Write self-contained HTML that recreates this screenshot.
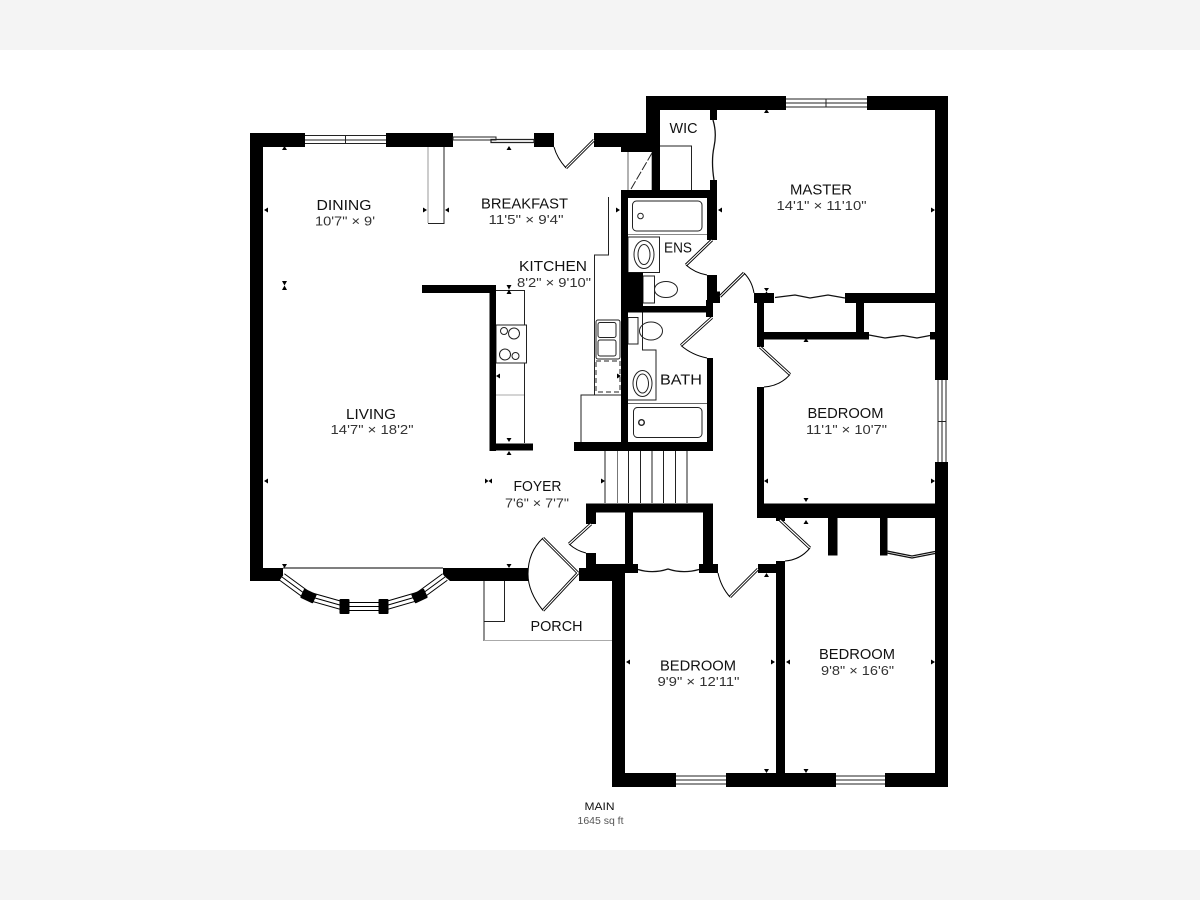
<!DOCTYPE html>
<html><head><meta charset="utf-8"><style>
html,body{margin:0;padding:0;background:#fff}
svg{display:block}
text{font-family:"Liberation Sans",sans-serif;fill:#111;text-anchor:middle}
.n{font-size:15px}
.d{font-size:13px;fill:#333}
</style></head><body>
<svg width="1200" height="900" viewBox="0 0 1200 900" xmlns="http://www.w3.org/2000/svg">
<rect width="1200" height="900" fill="#fff"/>
<rect width="1200" height="50" fill="#f4f4f4"/>
<rect y="850" width="1200" height="50" fill="#f4f4f4"/>

<!-- thin fixtures -->
<g fill="none" stroke="#222" stroke-width="1">
<path d="M444 147V223.5H428"/><path d="M428 147V223" stroke="#999"/>
<path d="M608.5 197V255H594.5V395H581V442M581 395H621"/>
<path d="M495 290.5H524.5V325M524.5 363V443"/><path d="M496 325H526.5V363H496z"/>
<circle cx="504" cy="331" r="3.5"/><circle cx="514" cy="333.5" r="5.5"/><circle cx="505" cy="354.5" r="5.5"/><circle cx="515.5" cy="356" r="3.5"/>
<path d="M496 395H524" stroke="#aaa"/>
<rect x="596" y="320" width="24" height="39" rx="2"/><rect x="598" y="322.5" width="18" height="15" rx="2"/><rect x="598" y="340" width="18" height="16" rx="2"/>
<rect x="596" y="361" width="24" height="31" stroke-dasharray="5 3"/>
<path d="M628 152V190M652 152V190" stroke="#666"/><path d="M631 189L652 153" stroke-dasharray="9 2"/>
<path d="M660 146H691.5V190"/>
<rect x="632.5" y="201" width="69.5" height="30" rx="4"/><circle cx="640.5" cy="216" r="2.8"/>
<path d="M628 234.5H707" stroke="#888"/>
<rect x="628" y="237" width="31.5" height="35.5"/><ellipse cx="644" cy="254.5" rx="10" ry="14"/><ellipse cx="644" cy="254.5" rx="6" ry="10"/>
<rect x="643" y="276" width="11.5" height="27"/><ellipse cx="666" cy="289.5" rx="11.5" ry="8"/>
<rect x="628" y="317.5" width="10" height="26.5"/><ellipse cx="651" cy="331" rx="11.5" ry="9"/>
<path d="M642.5 312V350H656V400H628"/>
<ellipse cx="642.5" cy="383.5" rx="9.5" ry="13"/><ellipse cx="642.5" cy="383.5" rx="6" ry="9.5"/>
<path d="M628 403.5H707" stroke="#666"/>
<rect x="633.5" y="407.5" width="68.5" height="30" rx="4"/><circle cx="641.5" cy="422.5" r="2.8" stroke-width="1.4"/>
<path d="M605 451V503M628.5 451V503M640.5 451V503M652 451V503M663.5 451V503M675.5 451V503M687 451V503"/>
<path d="M617.5 451V503" stroke="#777"/>
<path d="M484 581V641"/><path d="M484 640.5H612" stroke="#aaa"/>
<path d="M484 621.5H504.5V581"/>
<path d="M283 568H443" stroke="#555" stroke-width="1.5"/>
</g>

<!-- walls -->
<g fill="#000">
<rect x="250" y="133" width="13" height="448"/><rect x="250" y="133" width="55" height="14"/>
<rect x="386" y="133" width="67" height="14"/><rect x="534" y="133" width="20" height="14"/>
<rect x="594" y="133" width="27" height="14"/><rect x="621" y="133" width="39" height="19"/>
<rect x="646" y="96" width="14" height="56"/><rect x="652" y="150" width="8" height="40"/>
<rect x="646" y="96" width="140" height="14"/><rect x="867" y="96" width="81" height="14"/>
<rect x="935" y="96" width="13" height="284"/><rect x="935" y="462" width="13" height="325"/>
<rect x="710" y="110" width="7" height="10"/><rect x="710" y="180" width="7" height="10"/>
<rect x="621" y="190" width="96" height="8"/><rect x="707" y="190" width="10" height="50"/>
<rect x="621" y="190" width="7" height="261"/><rect x="621" y="272.5" width="22" height="39"/>
<rect x="707" y="275" width="10" height="28"/><rect x="707" y="291.5" width="13" height="11.5"/>
<rect x="621" y="306" width="92" height="6.5"/><rect x="706" y="300" width="7" height="17"/>
<rect x="707" y="358" width="6" height="90"/><rect x="574" y="442" width="139" height="9"/>
<rect x="422" y="285" width="74" height="8"/><rect x="489.5" y="285" width="6.5" height="166"/><rect x="489.5" y="443.5" width="43.5" height="7"/>
<rect x="754" y="293" width="20" height="10"/><rect x="845" y="293" width="90" height="10"/>
<rect x="757" y="303" width="7" height="44"/><rect x="757" y="332" width="112" height="7.5"/><rect x="856" y="303" width="8" height="30"/><rect x="930" y="332" width="5" height="7.5"/>
<rect x="757" y="387" width="7" height="131"/><rect x="757" y="503.5" width="178" height="14.5"/>
<rect x="776" y="518" width="9" height="3"/><rect x="828" y="518" width="9.5" height="37.5"/><rect x="880" y="518" width="7.5" height="37.5"/>
<rect x="586" y="503.5" width="127" height="9"/><rect x="586" y="503.5" width="10" height="20.5"/><rect x="586" y="553" width="10" height="20"/>
<rect x="625" y="512" width="8" height="61"/><rect x="703" y="512" width="10" height="52"/><rect x="699" y="564" width="19" height="9"/>
<rect x="579" y="568" width="46" height="13"/><rect x="586" y="564" width="52" height="9"/>
<rect x="612" y="568" width="13" height="219"/><rect x="612" y="773" width="64" height="14"/><rect x="726" y="773" width="110" height="14"/><rect x="885" y="773" width="63" height="14"/>
<rect x="758" y="564" width="27" height="9"/><rect x="776" y="561" width="9" height="215"/>
<rect x="250" y="568" width="33" height="13"/><path d="M443 568H528V581H450L443 575z"/><path d="M263 568H283L280 581H263z"/>
</g>

<!-- bay window -->
<g fill="none">
<path d="M282 577L308 596L345 606.5H383L419 596L445 577" stroke="#000" stroke-width="9"/>
<path d="M282 577L308 596L345 606.5H383L419 596L445 577" stroke="#fff" stroke-width="7"/>
<path d="M282 577L308 596L345 606.5H383L419 596L445 577" stroke="#000" stroke-width="1"/>
</g>
<g fill="#000">
<rect x="-5" y="-7" width="10" height="14" rx="1" transform="translate(308.500 596) rotate(-65)"/>
<rect x="-5" y="-7.500" width="10" height="15" rx="1" transform="translate(344.500 606.500)"/>
<rect x="-5" y="-7.500" width="10" height="15" rx="1" transform="translate(383.500 606.500)"/>
<rect x="-5" y="-7" width="10" height="14" rx="1" transform="translate(419.500 596) rotate(65)"/>
</g>

<!-- windows -->
<g fill="none" stroke="#222" stroke-width="1">
<path d="M305 135.500H386M305 140H386M305 143.500H386M345.500 135.500V143.500"/>
<path d="M786 99H867M786 103H867M786 107H867M826 99V107"/>
<path d="M938 380V462M942 380V462M946 380V462M938 421.500H946"/>
<path d="M676 776H726M676 780H726M676 784H726"/>
<path d="M836 776H885M836 780H885M836 784H885"/>
<path d="M453 137H496V140H453z"/><path d="M491 139.500H534V142.500H491z" stroke-width="1.200"/>
</g>

<!-- door leaves -->
<g fill="none" stroke="#000" stroke-width="3">
<path d="M594 140L566 168"/><path d="M712 240L686 265"/><path d="M720 296.500L744 273"/><path d="M712 317.500L681 345.500"/>
<path d="M760 347L790 374.500"/><path d="M591 524L569 544"/><path d="M578 573L543 538"/><path d="M578 573L543 610.500"/>
<path d="M758 569L730 597"/><path d="M780 520L810 548"/>
</g>
<g fill="none" stroke="#fff" stroke-width="1.200">
<path d="M594 140L566 168"/><path d="M712 240L686 265"/><path d="M720 296.500L744 273"/><path d="M712 317.500L681 345.500"/>
<path d="M760 347L790 374.500"/><path d="M591 524L569 544"/><path d="M578 573L543 538"/><path d="M578 573L543 610.500"/>
<path d="M758 569L730 597"/><path d="M780 520L810 548"/>
</g>
<!-- door arcs and curtains -->
<g fill="none" stroke="#000" stroke-width="1">
<path d="M554 147Q557 158 566 168"/><path d="M686 265Q695 273 707 275"/><path d="M744 273Q752 281 754 293"/>
<path d="M681 345.500Q692 355 707 358"/><path d="M790 374.500Q780 386 764 387"/><path d="M569 544Q577 551 586 553"/>
<path d="M543 538Q528 552 528 574Q528 592 543 610.500"/>
<path d="M718 573Q721 587 730 597"/><path d="M810 548Q800 560 785 561"/>
</g>
<g fill="none" stroke="#111" stroke-width="1.300">
<path d="M713 120Q717 133 714 147T714 180"/>
<path d="M775 297.500L795 295L810 298L828 295L845 298"/>
<path d="M869 335L885 338L903 335.500L917 338L930 335.500"/>
<path d="M638 569.500Q653 574 668 569Q683 574 699 569.500"/>
<path d="M887 551L912 556L935 551.500M887 553L912 558L935 553.500"/>
</g>

<!-- dimension ticks -->
<path fill="#000" d="
M282 150h5l-2.500-4zM506.500 150h5l-2.500-4zM764 113h5l-2.500-4zM803.500 342h5l-2.500-4zM506.500 455h5l-2.500-4zM803.500 524h5l-2.500-4zM764 577h5l-2.500-4z
M282 564h5l-2.500 4zM506.500 564h5l-2.500 4zM803.500 498h5l-2.500 4zM506.500 438h5l-2.500 4zM764 769h5l-2.500 4zM803.500 769h5l-2.500 4z
M268 207.500v5l-4-2.500zM449 207.500v5l-4-2.500zM722 207.500v5l-4-2.500zM500 373.500v5l-4-2.500zM268 478.500v5l-4-2.500zM768 478.500v5l-4-2.500zM630 659.500v5l-4-2.500zM790 659.500v5l-4-2.500z
M423 207.500v5l4-2.500zM616 207.500v5l4-2.500zM931 207.500v5l4-2.500zM617 373.500v5l4-2.500zM601 478.500v5l4-2.500zM931 478.500v5l4-2.500zM771 659.500v5l4-2.500zM931 659.500v5l4-2.500z
M282 281h5l-2.500 4.500l2.500 4.500h-5l2.500-4.500zM506.500 285h5l-2.500 4.500l2.500 4.500h-5l2.500-4.500zM764 288h5l-2.500 3.500l2.500 3.500h-5l2.500-3.500z
M485 478.500l3.500 2.500l3.500-2.500v5l-3.500-2.500l-3.500 2.500z"/>

<!-- labels -->
<text class="n" x="344" y="210" textLength="55" lengthAdjust="spacingAndGlyphs">DINING</text>
<text class="d" x="345" y="225.500" textLength="60" lengthAdjust="spacingAndGlyphs">10'7" × 9'</text>
<text class="n" x="524.500" y="208.500" textLength="87" lengthAdjust="spacingAndGlyphs">BREAKFAST</text>
<text class="d" x="526" y="224" textLength="75" lengthAdjust="spacingAndGlyphs">11'5" × 9'4"</text>
<text class="n" x="553" y="271" textLength="68" lengthAdjust="spacingAndGlyphs">KITCHEN</text>
<text class="d" x="554" y="287" textLength="74" lengthAdjust="spacingAndGlyphs">8'2" × 9'10"</text>
<text class="n" x="683.500" y="133" textLength="28" lengthAdjust="spacingAndGlyphs">WIC</text>
<text class="n" x="821" y="194.500" textLength="62" lengthAdjust="spacingAndGlyphs">MASTER</text>
<text class="d" x="821.500" y="210" textLength="90" lengthAdjust="spacingAndGlyphs">14'1" × 11'10"</text>
<text class="n" x="678" y="252.500" textLength="28" lengthAdjust="spacingAndGlyphs">ENS</text>
<text class="n" x="681" y="384.500" textLength="42" lengthAdjust="spacingAndGlyphs">BATH</text>
<text class="n" x="845.500" y="418" textLength="76" lengthAdjust="spacingAndGlyphs">BEDROOM</text>
<text class="d" x="846.500" y="434" textLength="81" lengthAdjust="spacingAndGlyphs">11'1" × 10'7"</text>
<text class="n" x="371" y="419" textLength="50" lengthAdjust="spacingAndGlyphs">LIVING</text>
<text class="d" x="372" y="434" textLength="83" lengthAdjust="spacingAndGlyphs">14'7" × 18'2"</text>
<text class="n" x="537.500" y="491" textLength="48" lengthAdjust="spacingAndGlyphs">FOYER</text>
<text class="d" x="537" y="507.500" textLength="64" lengthAdjust="spacingAndGlyphs">7'6" × 7'7"</text>
<text class="n" x="556.500" y="631" textLength="52" lengthAdjust="spacingAndGlyphs">PORCH</text>
<text class="n" x="698" y="670.500" textLength="76" lengthAdjust="spacingAndGlyphs">BEDROOM</text>
<text class="d" x="698.500" y="686" textLength="82" lengthAdjust="spacingAndGlyphs">9'9" × 12'11"</text>
<text class="n" x="857" y="659" textLength="76" lengthAdjust="spacingAndGlyphs">BEDROOM</text>
<text class="d" x="857.500" y="675" textLength="73" lengthAdjust="spacingAndGlyphs">9'8" × 16'6"</text>
<text x="599.500" y="810" font-size="11" textLength="30" lengthAdjust="spacingAndGlyphs">MAIN</text>
<text x="600.500" y="824" font-size="10" style="fill:#555" textLength="46" lengthAdjust="spacingAndGlyphs">1645 sq ft</text>
</svg>
</body></html>
